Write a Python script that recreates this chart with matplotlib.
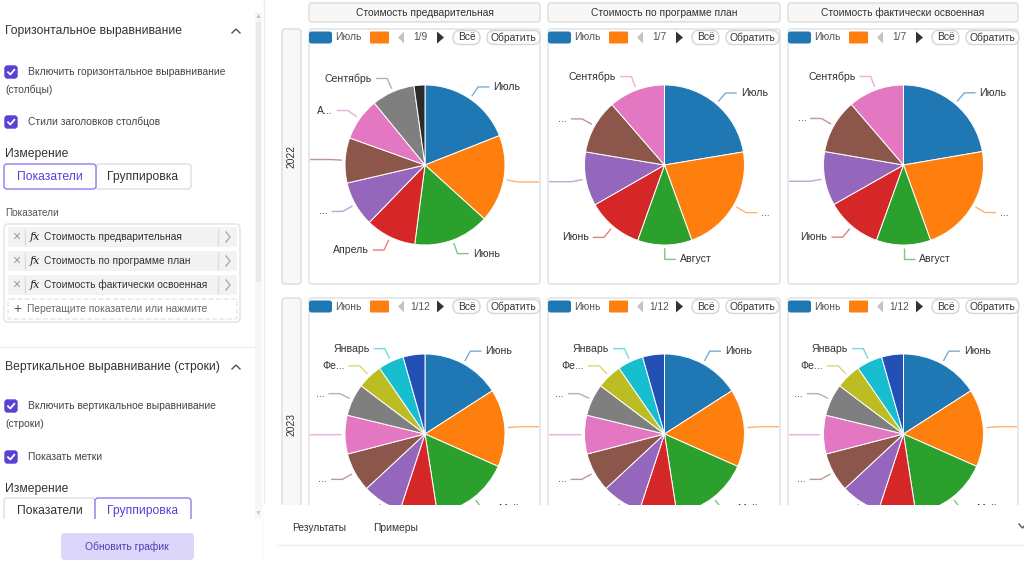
import matplotlib
matplotlib.use("Agg")
import matplotlib.pyplot as plt
from matplotlib.patches import FancyBboxPatch, Rectangle, Polygon
import numpy as np

plt.rcParams['font.family'] = ['Liberation Sans', 'DejaVu Sans']

# --- данные (доли секторов, по часовой стрелке от 12 часов) ---
col_titles = ["Стоимость предварительная", "Стоимость по программе план",
              "Стоимость фактически освоенная"]
row_titles = ["2022", "2023"]

vals_pred_2022 = [19.0, 17.7, 15.3, 10.2, 9.1, 9.1, 8.6, 8.7, 2.2]
labels_pred_2022 = ["Июль", "", "Июнь", "Апрель", "...", "", "А...", "Сентябрь", None]

vals_plan_2022 = [22.4, 22.1, 11.0, 11.3, 10.9, 11.0, 11.4]
labels_plan_2022 = ["Июль", "...", "Август", "Июнь", "", "...", "Сентябрь"]

vals_fact_2022 = [22.3, 22.2, 11.0, 11.3, 10.9, 11.0, 11.3]
labels_fact_2022 = ["Июль", "...", "Август", "Июнь", "", "...", "Сентябрь"]

vals_2023 = [15.9, 15.7, 15.9, 7.5, 8.0, 7.9, 7.8, 6.5, 5.1, 5.2, 4.4]
labels_2023 = ["Июнь", "", "Май", None, "", "...", "", "...", "Фе...", "Январь", None]

legend_first = [["Июль", "Июль", "Июль"], ["Июнь", "Июнь", "Июнь"]]
legend_pages = [["1/9", "1/7", "1/7"], ["1/12", "1/12", "1/12"]]

colors_2022_pred = ["#1f77b4", "#ff7f0e", "#2ca02c", "#d62728", "#9467bd",
                    "#8c564b", "#e377c2", "#7f7f7f", "#2b2b2b"]
colors_2022 = ["#1f77b4", "#ff7f0e", "#2ca02c", "#d62728", "#9467bd",
               "#8c564b", "#e377c2"]
colors_2023 = ["#1f77b4", "#ff7f0e", "#2ca02c", "#d62728", "#9467bd",
               "#8c564b", "#e377c2", "#7f7f7f", "#bcbd22", "#17becf", "#2350b5"]

W, H = 1024, 563
PURPLE = "#5b3fd6"
TXT = "#333333"
FS_HEAD = 8.7
FS_SMALL = 7.4

fig = plt.figure(figsize=(W / 100, H / 100), dpi=100)
ui = fig.add_axes([0, 0, 1, 1])
ui.set_xlim(0, W)
ui.set_ylim(H, 0)
ui.axis("off")


def box(ax, x0, y0, x1, y1, fc="white", ec="#dddddd", r=3, lw=1, ls="-", z=1):
    p = FancyBboxPatch((x0, y0), x1 - x0, y1 - y0,
                       boxstyle=f"round,pad=0,rounding_size={r}",
                       fc=fc, ec=ec, lw=lw, ls=ls, zorder=z)
    ax.add_patch(p)


def checkbox(x, y, text, text2=None):
    box(ui, x, y, x + 12, y + 12, fc=PURPLE, ec=PURPLE, r=2.5)
    ui.plot([x + 3, x + 5.3, x + 9.3], [y + 6.2, y + 8.5, y + 3.8], color="white", lw=1.3)
    ui.text(x + 23, y + 6, text, fontsize=FS_SMALL, color="#444444", va="center")
    if text2:
        ui.text(x, y + 24, text2, fontsize=FS_SMALL, color="#444444", va="center")


def chevron_up(x, y):
    ui.plot([x - 4, x, x + 4], [y + 2, y - 2, y + 2], color="#555555", lw=1)


# --- левая панель ---
ui.text(5, 31, "Горизонтальное выравнивание", fontsize=FS_HEAD, color=TXT, va="center")
chevron_up(236, 31)
checkbox(5, 66, "Включить горизонтальное выравнивание", "(столбцы)")
checkbox(5, 116, "Стили заголовков столбцов")
ui.text(5, 154, "Измерение", fontsize=FS_HEAD, color=TXT, va="center")
box(ui, 96, 164, 191, 189, ec="#dddddd", r=3)
box(ui, 4, 164, 96, 189, ec="#8f7cf0", r=3)
ui.text(50, 177, "Показатели", fontsize=FS_HEAD, color=PURPLE, ha="center", va="center")
ui.text(143, 177, "Группировка", fontsize=FS_HEAD, color=TXT, ha="center", va="center")

ui.text(5, 213, "Показатели", fontsize=7.2, color="#555555", va="center")
box(ui, 4, 224, 240, 322, ec="#e3e3e3", r=4)
measures = ["Стоимость предварительная", "Стоимость по программе план",
            "Стоимость фактически освоенная"]
for i, name in enumerate(measures):
    c = 237 + 24 * i
    ui.add_patch(Rectangle((8, c - 10), 229, 20, fc="#f3f3f3", ec="none"))
    ui.text(16, c, "×", fontsize=10, color="#999999", ha="center", va="center")
    ui.plot([25, 25], [c - 8, c + 8], color="#dddddd", lw=1)
    ui.text(30, c, "fx", fontsize=8, color="#222222", va="center",
            style="italic", family="DejaVu Serif")
    ui.text(44, c, name, fontsize=FS_SMALL, color=TXT, va="center")
    ui.plot([218, 218], [c - 8, c + 8], color="#dddddd", lw=1)
    ui.plot([226, 230, 226], [c - 5, c, c + 5], color="#aaaaaa", lw=1)
box(ui, 8, 299, 237, 319, ec="#e6e6e6", r=2, ls="--")
ui.text(17, 309, "+", fontsize=10, color="#555555", ha="center", va="center")
ui.text(27, 309, "Перетащите показатели или нажмите", fontsize=FS_SMALL, color="#666666", va="center")
ui.plot([0, 255], [347, 347], color="#eeeeee", lw=1)

ui.text(5, 367, "Вертикальное выравнивание (строки)", fontsize=FS_HEAD, color=TXT, va="center")
chevron_up(236, 367)
checkbox(5, 400, "Включить вертикальное выравнивание", "(строки)")
checkbox(5, 451, "Показать метки")
ui.text(5, 489, "Измерение", fontsize=FS_HEAD, color=TXT, va="center")
box(ui, 4, 498, 95, 528, ec="#dddddd", r=3)
box(ui, 95, 498, 191, 528, ec="#8f7cf0", r=3)
ui.text(50, 511, "Показатели", fontsize=FS_HEAD, color=TXT, ha="center", va="center")
ui.text(143, 511, "Группировка", fontsize=FS_HEAD, color=PURPLE, ha="center", va="center")
ui.add_patch(Rectangle((0, 519), 262, 44, fc="white", ec="none", zorder=3))
box(ui, 61, 533, 194, 560, fc="#dcd6fb", ec="none", r=4, z=4)
ui.text(127, 547, "Обновить график", fontsize=FS_SMALL, color="#4b3fb5", ha="center", va="center", zorder=5)

# скроллбар и разделитель
ui.add_patch(Rectangle((255, 12), 7, 506, fc="#f6f6f6", ec="none"))
ui.add_patch(Rectangle((256, 22), 5, 260, fc="#e9e9e9", ec="none"))
ui.add_patch(Polygon([[256.5, 18], [260.5, 18], [258.5, 14]], fc="#bbbbbb", ec="none"))
ui.add_patch(Polygon([[256.5, 511], [260.5, 511], [258.5, 515]], fc="#cccccc", ec="none"))
ui.plot([263.5, 263.5], [0, H], color="#eeeeee", lw=1)

# --- сетка графиков ---
col_x = [(309, 540), (548, 780), (788, 1018)]
row_y = [(29, 284), (298, 540)]

for (x0, x1), title in zip(col_x, col_titles):
    box(ui, x0, 3, x1, 22, fc="#f7f7f7", ec="#dcdcdc", r=3)
    ui.text((x0 + x1) / 2, 13, title, fontsize=FS_SMALL, color=TXT, ha="center", va="center")

for (y0, y1), title in zip(row_y, row_titles):
    box(ui, 282, y0, 301, y1, fc="#f8f8f8", ec="#dcdcdc", r=3)
    yc = 157 if title == "2022" else 425
    ui.text(291.5, yc, title, fontsize=FS_SMALL, color=TXT, rotation=90, ha="center", va="center")


def legend(x0, y, first, page):
    box(ui, x0, y - 6, x0 + 23, y + 6, fc="#1f77b4", ec="none", r=2.5)
    ui.text(x0 + 26, y, first, fontsize=FS_SMALL, color="#555555", va="center")
    box(ui, x0 + 61, y - 6, x0 + 80, y + 6, fc="#ff7f0e", ec="none", r=1)
    ui.add_patch(Polygon([[x0 + 95, y - 6], [x0 + 95, y + 6], [x0 + 89, y]], fc="#c4c4c4", ec="none"))
    ui.text(x0 + 111, y, page, fontsize=FS_SMALL, color="#555555", ha="center", va="center")
    ui.add_patch(Polygon([[x0 + 128, y - 6], [x0 + 128, y + 6], [x0 + 135, y]], fc="#333333", ec="none"))
    box(ui, x0 + 144, y - 7, x0 + 171, y + 7, fc="white", ec="#d5d5d5", r=7)
    ui.text(x0 + 157.5, y, "Всё", fontsize=FS_SMALL, color=TXT, ha="center", va="center")
    box(ui, x0 + 178, y - 7, x0 + 231, y + 7, fc="white", ec="#d5d5d5", r=7)
    ui.text(x0 + 204.5, y, "Обратить", fontsize=FS_SMALL, color=TXT, ha="center", va="center")


def draw_pie(x0, x1, y0, y1, cx, cy, r, vals, labels, colors):
    ax = fig.add_axes([x0 / W, 1 - y1 / H, (x1 - x0) / W, (y1 - y0) / H])
    ax.pie(vals, colors=colors, startangle=90, counterclock=False, radius=1,
           wedgeprops=dict(edgecolor="white", linewidth=0.7))
    ax.set_aspect("auto")
    ax.set_xlim((x0 - cx) / r, (x1 - cx) / r)
    ax.set_ylim((cy - y1) / r, (cy - y0) / r)
    ax.axis("off")
    total = sum(vals)
    cum = 0
    for v, lab, col in zip(vals, labels, colors):
        mid = np.deg2rad(90 - (cum + v / 2) / total * 360)
        cum += v
        if lab is None:
            continue
        ca, sa = np.cos(mid), np.sin(mid)
        side = 1 if ca >= 0 else -1
        length = 0.14 if lab else 0.6
        xs = [1.04 * ca, 1.18 * ca, 1.18 * ca + side * length]
        ys = [1.04 * sa, 1.18 * sa, 1.18 * sa]
        ax.plot(xs, ys, color=col, lw=1, alpha=0.6, solid_capstyle="butt")
        if lab:
            ax.text(xs[-1] + side * 0.05, ys[-1], lab, fontsize=7.6, color=TXT,
                    ha="left" if side > 0 else "right", va="center", clip_on=True)
    return ax


pies = [[(vals_pred_2022, labels_pred_2022, colors_2022_pred),
         (vals_plan_2022, labels_plan_2022, colors_2022),
         (vals_fact_2022, labels_fact_2022, colors_2022)],
        [(vals_2023, labels_2023, colors_2023)] * 3]
centers_y = [165, 434]

for ri, (y0, y1) in enumerate(row_y):
    for ci, (x0, x1) in enumerate(col_x):
        box(ui, x0, y0, x1, y1, fc="white", ec="#dfdfdf", r=3)
        legend(x0, y0 + 8.5, legend_first[ri][ci], legend_pages[ri][ci])
        vals, labels, cols = pies[ri][ci]
        cx = (x0 + x1) / 2 + 0.5
        draw_pie(x0 + 1, x1 - 1, y0 + 17, min(y1 - 1, 505), cx, centers_y[ri], 80,
                 vals, labels, cols)

# --- нижняя панель результатов ---
bottom = fig.add_axes([264 / W, 0, (W - 264) / W, (H - 505) / H], zorder=10)
bottom.set_xlim(264, W)
bottom.set_ylim(H, 505)
bottom.set_facecolor("white")
bottom.axis("off")
bottom.add_patch(Rectangle((264, 505), W - 264, 58, fc="white", ec="none"))
bottom.text(292, 528, "Результаты", fontsize=FS_SMALL, color=TXT, va="center")
bottom.text(373, 528, "Примеры", fontsize=FS_SMALL, color=TXT, va="center")
bottom.plot([277, W], [545, 545], color="#eeeeee", lw=1)
bottom.plot([1019, 1022.5, 1026], [524, 528, 524], color="#555555", lw=1, clip_on=False)

fig.savefig("out.png", dpi=100)
